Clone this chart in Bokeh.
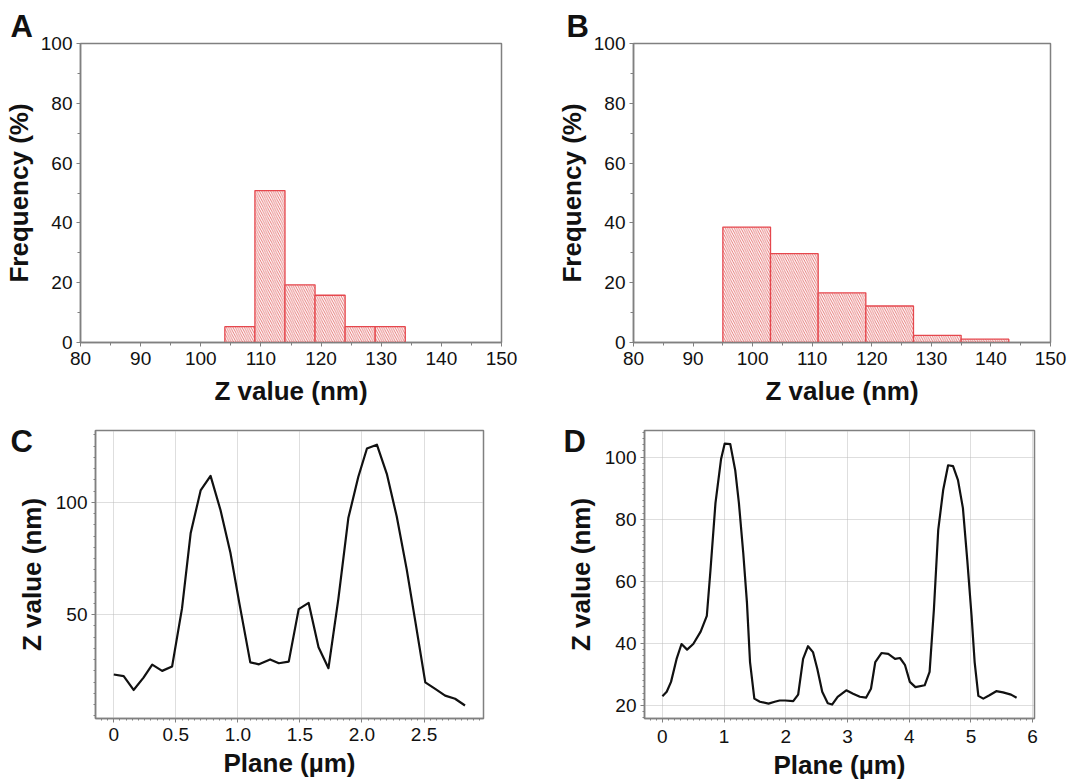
from bokeh.plotting import figure
from bokeh.layouts import column, row
from bokeh.models import FixedTicker, Range1d
from bokeh.embed import file_html
from bokeh.resources import INLINE

FONT = "Liberation Sans"

# ---------------- data ----------------
hist_a_edges = [104, 109, 114, 119, 124, 129, 134]
hist_a_freq = [5.3, 50.8, 19.3, 15.8, 5.3, 5.3]

hist_b_edges = [95, 103, 111, 119, 127, 135, 143]
hist_b_freq = [38.6, 29.7, 16.6, 12.2, 2.4, 1.1]

hist_x_ticks = [80, 90, 100, 110, 120, 130, 140, 150]
hist_y_ticks = [0, 20, 40, 60, 80, 100]

prof_c_x = [0.0, 0.08, 0.16, 0.24, 0.31, 0.39, 0.47, 0.55, 0.62, 0.70, 0.78, 0.86,
            0.94, 1.01, 1.10, 1.17, 1.26, 1.33, 1.41, 1.49, 1.57, 1.65, 1.73, 1.81,
            1.89, 1.97, 2.04, 2.12, 2.20, 2.28, 2.36, 2.43, 2.51, 2.59, 2.67, 2.75, 2.83]
prof_c_z = [23.4, 22.7, 16.5, 22.0, 27.8, 25.0, 26.9, 52.8, 86.4, 105.3, 111.8, 96.6,
            77.6, 55.7, 28.8, 27.9, 30.1, 28.4, 29.1, 52.5, 55.3, 35.5, 26.2, 57.2,
            93.0, 111.3, 124.0, 125.7, 112.7, 93.7, 70.3, 46.9, 19.9, 17.0, 14.0, 12.6, 9.6]

prof_d_x = [0.0, 0.07, 0.14, 0.23, 0.31, 0.40, 0.50, 0.62, 0.72, 0.78, 0.86, 0.95,
            1.01, 1.10, 1.18, 1.24, 1.31, 1.37, 1.42, 1.49, 1.58, 1.72, 1.82, 1.90,
            1.99, 2.12, 2.20, 2.28, 2.36, 2.44, 2.51, 2.59, 2.68, 2.75, 2.84, 2.98,
            3.09, 3.20, 3.30, 3.38, 3.45, 3.55, 3.66, 3.77, 3.85, 3.93, 4.01, 4.10,
            4.25, 4.33, 4.40, 4.47, 4.55, 4.63, 4.71, 4.79, 4.87, 4.94, 5.01, 5.06,
            5.12, 5.20, 5.30, 5.41, 5.52, 5.65, 5.74]
prof_d_z = [23.0, 24.4, 27.6, 35.0, 39.8, 38.0, 39.8, 43.8, 48.9, 63.8, 85.2, 99.3,
            104.4, 104.2, 95.8, 85.2, 69.2, 53.2, 34.0, 22.2, 21.2, 20.6, 21.2, 21.6,
            21.6, 21.4, 23.5, 35.0, 39.1, 37.2, 31.8, 24.4, 20.7, 20.3, 22.8, 24.9,
            23.8, 22.8, 22.5, 25.4, 34.0, 36.9, 36.6, 35.0, 35.3, 33.1, 27.6, 25.9,
            26.5, 30.8, 51.0, 76.6, 89.4, 97.4, 97.1, 92.6, 83.6, 67.0, 48.9, 34.0,
            23.1, 22.2, 23.3, 24.6, 24.2, 23.5, 22.5]

c_x_ticks = [0, 0.5, 1, 1.5, 2, 2.5]
c_x_labels = ["0", "0.5", "1.0", "1.5", "2.0", "2.5"]
c_y_ticks = [50, 100]
d_x_ticks = [0, 1, 2, 3, 4, 5, 6]
d_y_ticks = [20, 40, 60, 80, 100]

AXIS_GRAY = "#808080"


def style_axes(p, tick_size="19px", label_size="26px"):
    for ax in (p.xaxis[0], p.yaxis[0]):
        ax.axis_line_color = AXIS_GRAY
        ax.axis_line_width = 1.5
        ax.major_tick_line_color = AXIS_GRAY
        ax.minor_tick_line_color = AXIS_GRAY
        ax.major_tick_in = 0
        ax.major_tick_out = 4
        ax.minor_tick_in = 0
        ax.minor_tick_out = 3
        ax.major_label_text_font = FONT
        ax.major_label_text_font_size = tick_size
        ax.major_label_text_color = "#111111"
        ax.axis_label_text_font = FONT
        ax.axis_label_text_font_style = "bold"
        ax.axis_label_text_font_size = label_size
        ax.axis_label_text_color = "#111111"
    p.outline_line_color = AXIS_GRAY
    p.outline_line_width = 1.5
    p.background_fill_color = "white"
    p.border_fill_color = "white"


def title_letter(p, letter, offset, standoff):
    p.title.text = letter
    p.title.align = "left"
    p.title.vertical_align = "bottom"
    p.title.offset = offset
    p.title.standoff = standoff
    p.title.text_font = FONT
    p.title.text_font_style = "bold"
    p.title.text_font_size = "31px"
    p.title.text_color = "#111111"


def hist_fig(edges, freq, letter, width, mbl, mbr, offset):
    p = figure(width=width, height=408, x_range=Range1d(80, 150), y_range=Range1d(0, 100),
               output_backend="svg", toolbar_location=None,
               min_border_left=mbl, min_border_right=mbr, min_border_top=43, min_border_bottom=66)
    p.quad(left=edges[:-1], right=edges[1:], bottom=0, top=freq,
           fill_color="white", line_color="#e5474d", line_width=1.3,
           hatch_pattern="\\", hatch_color="#e36b6b", hatch_scale=4.5, hatch_weight=0.9)
    p.grid.visible = False
    style_axes(p)
    p.xaxis.ticker = FixedTicker(ticks=hist_x_ticks,
                                 minor_ticks=[85, 95, 105, 115, 125, 135, 145])
    p.yaxis.ticker = FixedTicker(ticks=hist_y_ticks, minor_ticks=[10, 30, 50, 70, 90])
    p.xaxis.major_label_standoff = 5
    p.xaxis.axis_label_standoff = 8
    p.yaxis.major_label_standoff = 4
    p.yaxis.axis_label_standoff = 4
    p.xaxis.axis_label = "Z value (nm)"
    p.yaxis.axis_label = "Frequency (%)"
    title_letter(p, letter, offset, 0)
    return p


def prof_fig(xs, zs, letter, width, xr, yr, xt, yt, xminor, yminor, mbl, mbr, mbt, mbb, offset,
             xstand):
    p = figure(width=width, height=374, x_range=Range1d(*xr), y_range=Range1d(*yr),
               output_backend="svg", toolbar_location=None,
               min_border_left=mbl, min_border_right=mbr, min_border_top=mbt, min_border_bottom=mbb)
    style_axes(p)
    p.grid.grid_line_color = "#bdbdbd"
    p.grid.grid_line_dash = "1 1"
    p.grid.grid_line_width = 1
    p.line(xs, zs, line_color="#111111", line_width=2.2, line_join="round")
    p.xaxis.ticker = FixedTicker(ticks=xt, minor_ticks=xminor)
    p.yaxis.ticker = FixedTicker(ticks=yt, minor_ticks=yminor)
    for ax in (p.xaxis[0], p.yaxis[0]):
        ax.minor_tick_out = 2
        ax.minor_tick_line_width = 1
    p.xaxis.major_label_standoff = xstand
    p.xaxis.axis_label_standoff = 4
    p.yaxis.major_label_standoff = 4
    p.yaxis.axis_label_standoff = 6
    p.xaxis.axis_label = "Plane (µm)"
    p.yaxis.axis_label = "Z value (nm)"
    title_letter(p, letter, offset, -57)
    return p


pa = hist_fig(hist_a_edges, hist_a_freq, "A", 553, 78, 52, -70)
pb = hist_fig(hist_b_edges, hist_b_freq, "B", 536, 77, 39, -67)

c_minor_x = [i * 0.05 for i in range(-2, 60)]
c_minor_y = list(range(5, 135, 5))
pc = prof_fig(prof_c_x, prof_c_z, "C", 553, (-0.147, 2.979), (3.8, 132.0), c_x_ticks, c_y_ticks,
              c_minor_x, c_minor_y, 95, 70, 21, 60, -85, 5)
pc.xaxis.major_label_overrides = {t: s for t, s in zip(c_x_ticks, c_x_labels)}

d_minor_x = [i * 0.1 for i in range(-3, 61)]
d_minor_y = list(range(16, 110, 2))
pd_ = prof_fig(prof_d_x, prof_d_z, "D", 536, (-0.29, 6.03), (15.8, 108.6), d_x_ticks, d_y_ticks,
               d_minor_x, d_minor_y, 91, 55, 22, 62, -81, 7)

layout = column(row(pa, pb), row(pc, pd_))
open("out.html", "w").write(file_html(layout, INLINE))
